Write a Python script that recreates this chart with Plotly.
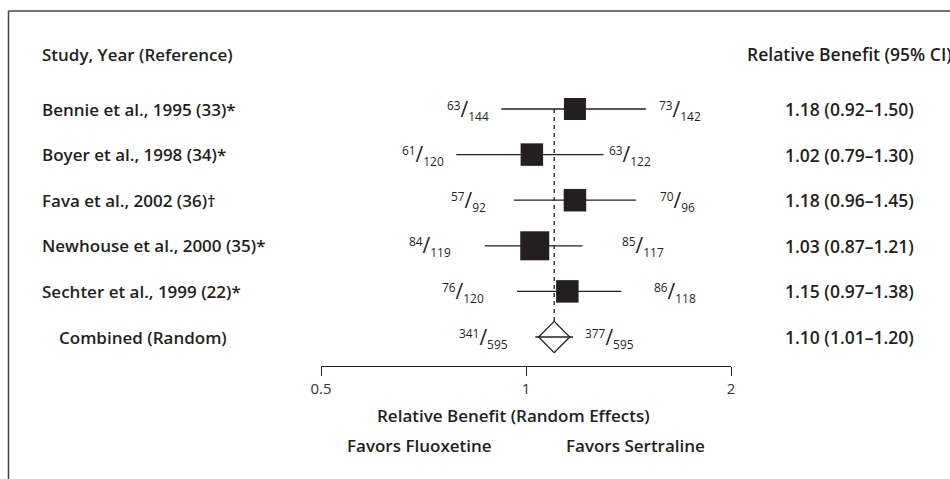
import numpy as np
import plotly.graph_objects as go

# ---------------- data ----------------
studies = ["Bennie et al., 1995 (33)*", "Boyer et al., 1998 (34)*", "Fava et al., 2002 (36)†",
           "Newhouse et al., 2000 (35)*", "Sechter et al., 1999 (22)*"]
rel_benefit = [1.18, 1.02, 1.18, 1.03, 1.15]
ci_low = [0.92, 0.79, 0.96, 0.87, 0.97]
ci_high = [1.50, 1.30, 1.45, 1.21, 1.38]
fluox_events = [63, 61, 57, 84, 76]
fluox_total = [144, 120, 92, 119, 120]
sert_events = [73, 63, 70, 85, 86]
sert_total = [142, 122, 96, 117, 118]

combined_label = "Combined (Random)"
combined_rb = 1.10
combined_low = 1.01
combined_high = 1.20
combined_fluox = (341, 595)
combined_sert = (377, 595)

tick_vals = [0.5, 1, 2]
tick_text = ["0.5", "1", "2"]

# ---------------- styling ----------------
INK = "#231f20"
FONT = "Open Sans"
square_sizes = [22, 22.5, 22.5, 29, 22.5]
left_gap = [10, 10, 26, 32, 31, 19]     # px gap between label and CI start
right_gap = [11, 3, 22, 38, 31, 3]      # px gap between CI end and label

W, H = 950, 479
L, R, T, B = 321, 219, 90, 113
plot_h = H - T - B
row_px = 45.6
first_row_px = 109
y_top = (T - first_row_px) / row_px
y_bot = (H - B - first_row_px) / row_px


def px_to_paper_x(px):
    return (px - L) / (W - L - R)


def px_to_paper_y(py):
    return (H - B - py) / plot_h


fig = go.Figure()

n = len(studies)
rows = list(range(n))
comb_row = n

# CI lines
xs, ys = [], []
for i in rows:
    xs += [ci_low[i], ci_high[i], None]
    ys += [i, i, None]
fig.add_trace(go.Scatter(x=xs, y=ys, mode="lines", line=dict(color=INK, width=1.3),
                         hoverinfo="skip", showlegend=False))

# dashed line at combined estimate
fig.add_trace(go.Scatter(x=[combined_rb, combined_rb], y=[0, comb_row - 16 / row_px], mode="lines",
                         line=dict(color=INK, width=1.3, dash="4px,4px"),
                         hoverinfo="skip", showlegend=False))

# squares
fig.add_trace(go.Scatter(x=rel_benefit, y=rows, mode="markers",
                         marker=dict(symbol="square", size=square_sizes, color=INK, opacity=1,
                                     line=dict(width=0)),
                         hoverinfo="skip", showlegend=False))

# combined diamond
fig.add_trace(go.Scatter(x=[combined_rb], y=[comb_row], mode="markers",
                         marker=dict(symbol="line-ew-open", size=27, color=INK, opacity=1,
                                     line=dict(color=INK, width=1.3)),
                         hoverinfo="skip", showlegend=False))
fig.add_trace(go.Scatter(x=[combined_rb], y=[comb_row], mode="markers",
                         marker=dict(symbol="diamond-open", size=24, color=INK, opacity=1,
                                     line=dict(color=INK, width=1.3)),
                         hoverinfo="skip", showlegend=False))

# vertical line at 1
fig.add_shape(type="line", xref="x", yref="paper", x0=np.log10(1), x1=np.log10(1),
              y0=0, y1=1, line=dict(color=INK, width=1.3), layer="below")

# frame (top and left)
fig.add_shape(type="line", xref="paper", yref="paper", x0=px_to_paper_x(8.5), x1=px_to_paper_x(952),
              y0=px_to_paper_y(11), y1=px_to_paper_y(11), line=dict(color="#444", width=1.5))
fig.add_shape(type="line", xref="paper", yref="paper", x0=px_to_paper_x(8.5), x1=px_to_paper_x(8.5),
              y0=px_to_paper_y(11), y1=px_to_paper_y(482), line=dict(color="#444", width=1.5))

ann = []
bold = dict(family=FONT, size=17, color=INK, weight=600)
num = dict(family=FONT, size=17.5, color=INK, weight=600)
reg = dict(family=FONT, size=17, color=INK, weight=400)


def frac(a, b):
    return f"<sup>{a}</sup><span style=\"font-size:21px\">/</span><sub>{b}</sub>"


# headers
ann.append(dict(text="Study, Year (Reference)", xref="paper", yref="paper",
                x=px_to_paper_x(40), y=px_to_paper_y(54), xanchor="left", yanchor="middle",
                showarrow=False, font=bold))
ann.append(dict(text="Relative Benefit (95% CI)", xref="paper", yref="paper",
                x=px_to_paper_x(745), y=px_to_paper_y(54), xanchor="left", yanchor="middle",
                showarrow=False, font=num))

all_labels = studies + [combined_label]
all_rb = rel_benefit + [combined_rb]
all_lo = ci_low + [combined_low]
all_hi = ci_high + [combined_high]
all_fe = fluox_events + [combined_fluox[0]]
all_ft = fluox_total + [combined_fluox[1]]
all_se = sert_events + [combined_sert[0]]
all_st = sert_total + [combined_sert[1]]

for i in range(n + 1):
    ann.append(dict(text=all_labels[i], xref="paper", yref="y",
                    x=px_to_paper_x(40 if i < n else 57), y=i, xanchor="left", yanchor="middle",
                    showarrow=False, font=bold))
    ann.append(dict(text=f"{all_rb[i]:.2f} ({all_lo[i]:.2f}–{all_hi[i]:.2f})", xref="paper", yref="y",
                    x=px_to_paper_x(849), y=i, xanchor="center", yanchor="middle",
                    showarrow=False, font=num))
    ann.append(dict(text=frac(all_fe[i], all_ft[i]), xref="x", yref="y",
                    x=np.log10(all_lo[i]), y=i, xanchor="right", yanchor="middle",
                    xshift=-left_gap[i], showarrow=False, font=reg))
    ann.append(dict(text=frac(all_se[i], all_st[i]), xref="x", yref="y",
                    x=np.log10(all_hi[i]), y=i, xanchor="left", yanchor="middle",
                    xshift=right_gap[i], showarrow=False, font=reg))

ann.append(dict(text="Relative Benefit (Random Effects)", xref="paper", yref="paper",
                x=px_to_paper_x(513), y=px_to_paper_y(415), xanchor="center", yanchor="middle",
                showarrow=False, font=bold))
ann.append(dict(text="Favors Fluoxetine", xref="paper", yref="paper",
                x=px_to_paper_x(419), y=px_to_paper_y(445), xanchor="center", yanchor="middle",
                showarrow=False, font=bold))
ann.append(dict(text="Favors Sertraline", xref="paper", yref="paper",
                x=px_to_paper_x(635), y=px_to_paper_y(445), xanchor="center", yanchor="middle",
                showarrow=False, font=bold))

fig.update_layout(
    width=W, height=H,
    margin=dict(l=L, r=R, t=T, b=B, pad=0),
    paper_bgcolor="white", plot_bgcolor="white",
    showlegend=False,
    annotations=ann,
    xaxis=dict(type="log", range=[np.log10(0.5), np.log10(2)], tickvals=tick_vals, ticktext=tick_text,
               showgrid=False, zeroline=False, showline=True, linecolor=INK, linewidth=1.3,
               ticks="outside", ticklen=9, tickwidth=1.3, tickcolor=INK,
               tickfont=dict(family=FONT, size=15, color="#333"), fixedrange=True),
    yaxis=dict(range=[y_bot, y_top], showgrid=False, zeroline=False, showline=False,
               showticklabels=False, ticks="", fixedrange=True),
)

fig.write_html("out.html", config={"displayModeBar": False},
               post_script="document.body.style.margin='0px';")
